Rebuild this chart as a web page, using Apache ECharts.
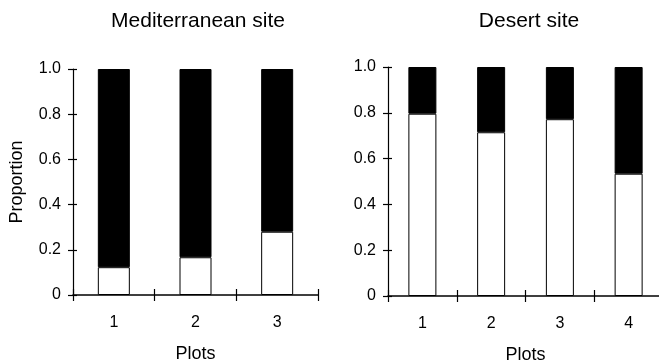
<!DOCTYPE html>
<html><head><meta charset="utf-8">
<script src="https://cdn.jsdelivr.net/npm/echarts@6/dist/echarts.min.js"></script>
<style>html,body{margin:0;padding:0;background:#fff}#c{width:659px;height:363px}</style>
</head><body><div id="c"></div>
<script>
const medCategories = ['1', '2', '3'];
const medWhite = [0.123, 0.167, 0.28];
const medBlack = [0.877, 0.833, 0.72];
const desCategories = ['1', '2', '3', '4'];
const desWhite = [0.796, 0.715, 0.772, 0.534];
const desBlack = [0.204, 0.285, 0.228, 0.466];
const yTicks = [0, 0.2, 0.4, 0.6, 0.8, 1.0];
const titles = ['Mediterranean site', 'Desert site'];

const FONT = '"Liberation Sans", Arial, sans-serif';
const chart = echarts.init(document.getElementById('c'), null, {renderer: 'canvas'});
function ls(w) { return {color: '#000', width: w || 1.2, type: 'solid', opacity: 1}; }
function yFmt(v) { return v === 0 ? '0' : v.toFixed(1); }

const grids = [
  {left: 73, top: 69, width: 245, height: 226, containLabel: false, outerBoundsMode: 'none'},
  {left: 388, top: 67, width: 275, height: 229, containLabel: false, outerBoundsMode: 'none'}
];
const cats = [medCategories, desCategories];
const xAxes = [], yAxes = [];
[0, 1].forEach(g => {
  xAxes.push({
    type: 'category', gridIndex: g, data: cats[g], position: 'bottom',
    axisLine: {show: true, onZero: false, lineStyle: ls(1.6)},
    axisTick: {show: true, length: 6, lineStyle: ls(), alignWithLabel: false},
    axisLabel: {color: '#000', fontSize: 16, fontFamily: FONT, margin: 20},
    name: 'Plots', nameLocation: 'middle', nameGap: 50,
    nameTextStyle: {color: '#000', fontSize: 18, fontFamily: FONT}
  });
  yAxes.push({
    type: 'value', gridIndex: g, min: 0, max: 1, interval: 0.2, position: 'left',
    axisLine: {show: true, onZero: false, lineStyle: ls(1.2)}, axisTick: {show: true, length: 5, lineStyle: ls()},
    splitLine: {show: false},
    axisLabel: {color: '#000', fontSize: 16, fontFamily: FONT, margin: 12, formatter: yFmt},
    name: g === 0 ? 'Proportion' : '', nameLocation: 'middle', nameGap: 47,
    nameTextStyle: {color: '#000', fontSize: 18, fontFamily: FONT}
  });
});
[0, 1].forEach(g => {
  xAxes.push({
    type: 'category', gridIndex: g, data: cats[g], position: 'bottom', offset: -6,
    axisLine: {show: false, onZero: false}, axisTick: {show: true, length: 6, lineStyle: ls()},
    axisLabel: {show: false}
  });
  yAxes.push({
    type: 'value', gridIndex: g, min: 0, max: 1, interval: 0.2, position: 'left', offset: -4,
    axisLine: {show: false, onZero: false}, axisTick: {show: true, length: 4, lineStyle: ls()},
    splitLine: {show: false}, axisLabel: {show: false}
  });
});

function bars(g, data, color, bw, stack) {
  return {
    type: 'bar', xAxisIndex: g, yAxisIndex: g, stack, data,
    barWidth: bw, animation: false,
    itemStyle: {color, borderColor: '#000', borderWidth: 1}
  };
}

chart.setOption({
  animation: false,
  title: [
    {text: titles[0], left: 193, top: 6, textAlign: 'center',
     textStyle: {fontSize: 21, fontWeight: 'normal', color: '#000', fontFamily: FONT}},
    {text: titles[1], left: 524, top: 6, textAlign: 'center',
     textStyle: {fontSize: 21, fontWeight: 'normal', color: '#000', fontFamily: FONT}}
  ],
  grid: grids,
  xAxis: xAxes,
  yAxis: yAxes,
  series: [
    bars(0, medWhite, '#fff', 32, 'm'),
    bars(0, medBlack, '#000', 32, 'm'),
    bars(1, desWhite, '#fff', 28, 'd'),
    bars(1, desBlack, '#000', 28, 'd')
  ]
});
</script></body></html>
